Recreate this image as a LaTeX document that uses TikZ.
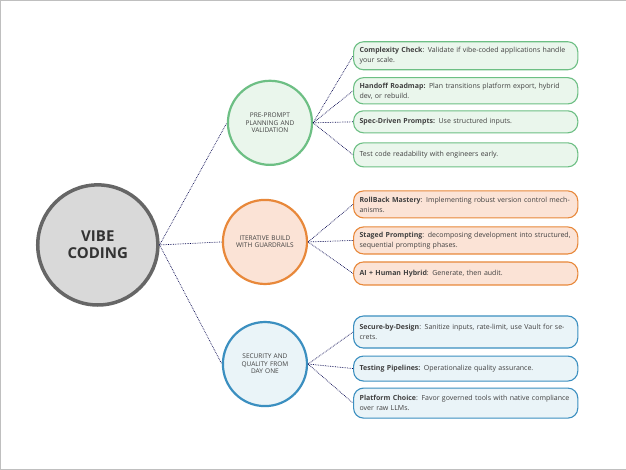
\documentclass[tikz,border=0pt]{standalone}
\usepackage{fontspec}
\setmainfont{Open Sans}
\usetikzlibrary{positioning}

\definecolor{grnline}{HTML}{6DBF84}
\definecolor{grnfill}{HTML}{EAF6EC}
\definecolor{orgline}{HTML}{E8883A}
\definecolor{orgfill}{HTML}{FBE3D6}
\definecolor{bluline}{HTML}{3B8FC0}
\definecolor{blufill}{HTML}{EAF4F8}
\definecolor{txtgray}{HTML}{404040}

\tikzset{
  hub/.style={circle, draw=#1line, fill=#1fill, line width=2.2pt, minimum size=84pt,
    inner sep=0pt, align=center, font=\fontsize{6.5}{7.5}\selectfont, text=txtgray, text width=60pt},
  leaf/.style={draw=#1line, fill=#1fill, line width=1.1pt, rounded corners=10pt,
    minimum width=224pt, text width=212pt, inner sep=5pt, align=left,
    font=\fontsize{7}{10}\selectfont, text=txtgray, anchor=west},
  link/.style={densely dotted, line width=0.7pt, draw=black!70!blue},
}

\begin{document}
\begin{tikzpicture}[x=1pt, y=-1pt]
    % frame
    \draw[black!25, fill=white] (0.5,0.5) rectangle (625.5,469.5);

    % centre
    \node[circle, draw=black!60, fill=black!15, line width=3.5pt, minimum size=120pt,
      align=center, font=\fontsize{15}{17}\selectfont\bfseries, text=black!80] (vibe) at (98,245) {VIBE\\CODING};

    % hubs
    \node[hub=grn] (plan) at (270,123) {PRE-PROMPT PLANNING AND VALIDATION};
    \node[hub=org] (build) at (265,242) {ITERATIVE BUILD WITH GUARDRAILS};
    \node[hub=blu] (secure) at (265,364) {SECURITY AND QUALITY FROM DAY ONE};

    % leaves, green
    \node[leaf=grn, minimum height=28pt] (g1) at (353,56) {\textbf{Complexity Check}: Validate if vibe-coded applications handle your scale.};
    \node[leaf=grn, minimum height=26pt] (g2) at (353,91) {\textbf{Handoff Roadmap:} Plan transitions platform export, hybrid dev, or rebuild.};
    \node[leaf=grn, minimum height=22pt] (g3) at (353,122) {\textbf{Spec-Driven Prompts:} Use structured inputs.};
    \node[leaf=grn, minimum height=24pt] (g4) at (353,155) {Test code readability with engineers early.};

    % leaves, orange
    \node[leaf=org, minimum height=27pt] (o1) at (353,204.5) {\textbf{RollBack Mastery}: Implementing robust version control mechanisms.};
    \node[leaf=org, minimum height=27pt] (o2) at (353,240.5) {\textbf{Staged Prompting}: decomposing development into structured, sequential prompting phases.};
    \node[leaf=org, minimum height=23pt] (o3) at (353,273.5) {\textbf{AI + Human Hybrid}: Generate, then audit.};

    % leaves, blue
    \node[leaf=blu, minimum height=32pt] (b1) at (353,332) {\textbf{Secure-by-Design}: Sanitize inputs, rate-limit, use Vault for secrets.};
    \node[leaf=blu, minimum height=25pt] (b2) at (353,368.5) {\textbf{Testing Pipelines:} Operationalize quality assurance.};
    \node[leaf=blu, minimum height=30pt] (b3) at (353,403) {\textbf{Platform Choice}: Favor governed tools with native compliance over raw LLMs.};

    % links
    \foreach \h in {plan, build, secure}
      \draw[link] (vibe.east) -- (\h.west);
    \foreach \l in {g1, g2, g3, g4}
      \draw[link] (plan.east) -- (\l.west);
    \foreach \l in {o1, o2, o3}
      \draw[link] (build.east) -- (\l.west);
    \foreach \l in {b1, b2, b3}
      \draw[link] (secure.east) -- (\l.west);
\end{tikzpicture}
\end{document}
